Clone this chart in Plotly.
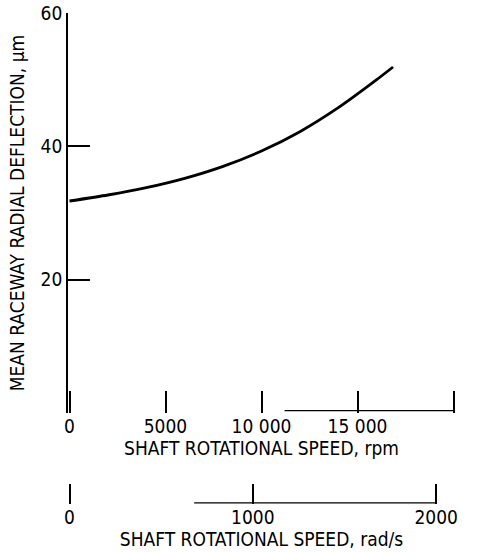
import math
import plotly.graph_objects as go

# Data
speed_rpm = [0, 2000, 4000, 6000, 8000, 10000, 12000, 14000, 16000, 16850]
deflection_um = [31.8, 32.7, 33.8, 35.2, 37.0, 39.3, 42.2, 45.8, 50.0, 51.9]

rpm_ticks = [0, 5000, 10000, 15000, 20000]
rpm_ticktext = ["0", "5000", "10 000", "15 000", "20 000"]
rads_ticks = [0, 1000, 2000]
rads_ticktext = ["0", "1000", "2000"]
y_ticks = [20, 40, 60]
y_ticktext = ["20", "40", "60"]

# partial baseline segments visible in the scan
rpm_base_x = [11200, 20000]
rpm_base_y = [0.35, 0.35]
rads_base_x = [680, 2000]
rads_base_y = [0.05, 0.05]

PAD = 78  # small range padding (rpm) so that end ticks are drawn
RPM_RANGE = [-PAD, 20000 + PAD]
K = 2 * math.pi / 60
RADS_RANGE = [RPM_RANGE[0] * K, RPM_RANGE[1] * K]

FONT = "Liberation Sans Narrow, DejaVu Sans Condensed, Arial Narrow, sans-serif"
W, H = 478, 552
ml, mr, mt, mb = 67.5, 22.5, 13, 8
ph = H - mt - mb

def frac(px):
    return (H - mb - px) / ph

fig = go.Figure()
fig.add_trace(go.Scatter(x=speed_rpm, y=deflection_um, mode="lines",
                         line=dict(color="black", width=2.8, shape="spline", smoothing=0.6),
                         xaxis="x", yaxis="y", showlegend=False, hoverinfo="skip"))
fig.add_trace(go.Scatter(x=rpm_base_x, y=rpm_base_y, mode="lines",
                         line=dict(color="black", width=1.2), xaxis="x", yaxis="y",
                         showlegend=False, hoverinfo="skip"))
fig.add_trace(go.Scatter(x=rads_base_x, y=rads_base_y, mode="lines",
                         line=dict(color="black", width=1.2), xaxis="x2", yaxis="y2",
                         showlegend=False, hoverinfo="skip"))

tickfont = dict(family=FONT, size=19, color="black")

fig.update_layout(
    width=W, height=H,
    margin=dict(l=ml, r=mr, t=mt, b=mb),
    paper_bgcolor="white", plot_bgcolor="white",
    font=dict(family=FONT, size=19, color="black"),
    xaxis=dict(range=RPM_RANGE, domain=[0, 1], anchor="y", automargin=False,
               tickmode="array", tickvals=rpm_ticks, ticktext=rpm_ticktext,
               ticks="inside", ticklen=22, tickwidth=1.5, tickcolor="black",
               showline=False, showgrid=False, zeroline=False,
               tickfont=tickfont,
               title=dict(text="SHAFT ROTATIONAL SPEED, rpm", standoff=2, font=tickfont)),
    yaxis=dict(range=[0, 60], domain=[frac(413), 1], anchor="x", automargin=False,
               tickmode="array", tickvals=y_ticks, ticktext=y_ticktext,
               ticks="inside", ticklen=22, tickwidth=1.5, tickcolor="black",
               showline=True, linecolor="black", linewidth=1.8,
               showgrid=False, zeroline=False,
               tickfont=tickfont,
               title=dict(text="MEAN RACEWAY RADIAL DEFLECTION, μm", standoff=11, font=tickfont)),
    xaxis2=dict(range=RADS_RANGE, domain=[0, 1], anchor="y2", automargin=False,
                tickmode="array", tickvals=rads_ticks, ticktext=rads_ticktext,
                ticks="inside", ticklen=20, tickwidth=1.5, tickcolor="black",
                showline=False, showgrid=False, zeroline=False,
                tickfont=tickfont,
                title=dict(text="SHAFT ROTATIONAL SPEED, rad/s", standoff=2, font=tickfont)),
    yaxis2=dict(range=[0, 1], domain=[frac(504), frac(482)], anchor="x2",
                visible=False, showgrid=False, zeroline=False),
)

fig.write_html("out.html", config={"displayModeBar": False})

# remove the browser's default page margin so the figure sits at the window origin
with open("out.html", "r", encoding="utf-8") as f:
    html = f.read()
html = html.replace("<head>", "<head><style>html,body{margin:0;padding:0;overflow:hidden;}</style>", 1)
with open("out.html", "w", encoding="utf-8") as f:
    f.write(html)
